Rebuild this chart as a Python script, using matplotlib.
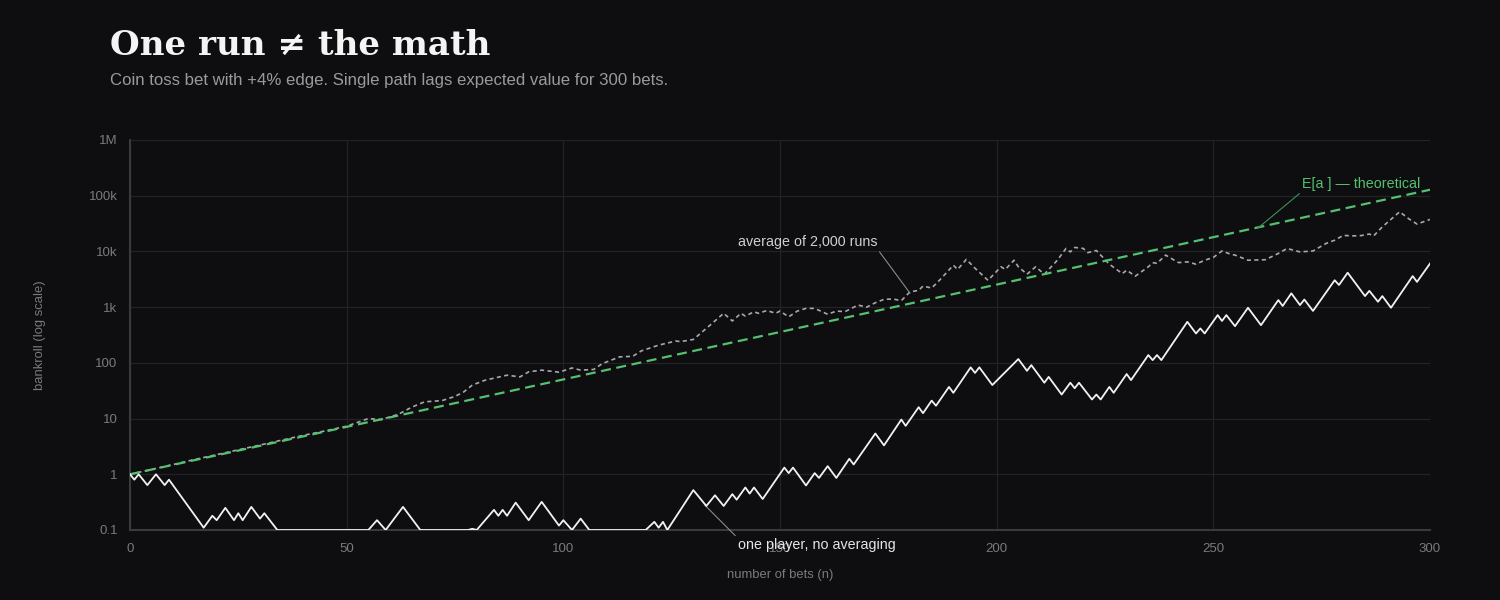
import numpy as np
import matplotlib
matplotlib.use("Agg")
from matplotlib import pyplot as plt
from matplotlib.ticker import FixedLocator, FixedFormatter

# ---- data ----
# one single player (turning points of the path, floor at 0.1)
single_n = [0, 1, 2, 4, 6, 8, 9, 17, 19, 20, 22, 24, 25, 26, 28, 30, 31, 34, 55, 57,
            59, 63, 67, 78, 79, 80, 84, 85, 86, 87, 89, 92, 95, 99, 100, 102, 104, 106,
            119, 121, 122, 123, 124, 130, 133, 135, 137, 139, 140, 142, 143, 144, 146,
            151, 152, 153, 156, 158, 159, 161, 163, 166, 167, 172, 174, 178, 179, 182,
            183, 185, 186, 189, 190, 194, 195, 196, 199, 205, 207, 208, 211, 212, 215,
            217, 218, 219, 222, 223, 224, 226, 227, 230, 231, 235, 236, 237, 238, 244,
            246, 247, 248, 251, 252, 253, 255, 258, 261, 265, 266, 268, 270, 271, 273,
            278, 279, 281, 285, 286, 288, 289, 291, 296, 297, 300]
single_val = [1.0, 0.8, 1.0, 0.64, 1.0, 0.64, 0.8, 0.11, 0.18, 0.15, 0.25, 0.15, 0.2, 0.15,
              0.26, 0.16, 0.2, 0.1, 0.1, 0.15, 0.1, 0.26, 0.1, 0.1, 0.105, 0.1, 0.23, 0.18,
              0.23, 0.18, 0.31, 0.15, 0.32, 0.12, 0.15, 0.1, 0.16, 0.1, 0.1, 0.14, 0.11,
              0.14, 0.1, 0.52, 0.27, 0.42, 0.27, 0.44, 0.35, 0.58, 0.45, 0.58, 0.36, 1.32,
              1.05, 1.32, 0.63, 1.05, 0.86, 1.4, 0.86, 1.9, 1.5, 5.4, 3.3, 9.6, 7.4, 16,
              12.5, 21, 17, 37, 29, 83, 66, 83, 40, 117, 72, 91, 44, 56, 27, 44, 35, 44,
              22, 27, 22, 37, 29, 63, 49, 138, 112, 138, 112, 545, 337, 415, 337, 720, 565,
              720, 455, 975, 475, 1340, 1050, 1770, 1090, 1370, 855, 3040, 2500, 4150,
              1580, 1960, 1250, 1580, 975, 3610, 2840, 6060]

# average of 2,000 runs
avg_n = [0, 5, 10, 15, 20, 25, 30, 35, 40, 45, 50, 55, 58, 62, 65, 68, 72, 75, 77, 79,
         82, 87, 90, 92, 95, 99, 102, 104, 107, 109, 113, 116, 118, 122, 126, 127, 130,
         133, 137, 139, 141, 142, 144, 145, 147, 149, 150, 152, 154, 156, 158, 161, 163,
         165, 168, 170, 172, 174, 176, 178, 180, 182, 183, 185, 187, 190, 191, 193, 195,
         198, 201, 202, 204, 205, 207, 209, 211, 214, 216, 217, 218, 220, 221, 223, 224,
         226, 229, 230, 232, 235, 236, 237, 239, 241, 242, 244, 246, 248, 250, 252, 254,
         255, 258, 262, 265, 267, 270, 273, 276, 278, 280, 282, 284, 286, 287, 289, 293,
         295, 297, 298, 300]
avg_val = [1, 1.22, 1.5, 1.85, 2.25, 2.75, 3.35, 4.1, 5.0, 6.0, 7.3, 10, 9.6, 12, 16, 20,
           21, 25, 30, 40, 49, 60, 56, 69, 74, 68, 81, 74, 76, 97, 128, 131, 164, 208, 247,
           240, 263, 415, 775, 565, 775, 690, 825, 775, 870, 775, 850, 670, 850, 950, 950,
           745, 850, 830, 1090, 1000, 1200, 1380, 1400, 1310, 1880, 2000, 2390, 2200, 3150,
           5650, 4750, 7200, 5000, 3030, 5300, 4750, 6950, 5300, 3900, 5300, 3900, 6950,
           11300, 9800, 11800, 11300, 9500, 10400, 8600, 5900, 4000, 4600, 3600, 5300,
           6300, 6100, 8600, 6950, 6300, 6500, 5900, 6950, 7800, 10200, 8900, 8600, 6950,
           7100, 9200, 11300, 9800, 10200, 13900, 15900, 19400, 19000, 19200, 20500, 19000,
           27600, 51500, 39000, 31000, 33000, 37500]

# theoretical expectation (straight line on log axis)
ev_n = [0, 300]
ev_val = [1, 128000]

y_ticks = [0.1, 1, 10, 100, 1e3, 1e4, 1e5, 1e6]
y_labels = ["0.1", "1", "10", "100", "1k", "10k", "100k", "1M"]
x_ticks = [0, 50, 100, 150, 200, 250, 300]

# ---- style ----
BG = "#0e0e10"
GRID = "#232326"
TICK = "#7a7a7e"
GREEN = "#55c070"

plt.rcParams["font.family"] = ["Liberation Sans", "DejaVu Sans"]

fig = plt.figure(figsize=(15, 6), dpi=100, facecolor=BG)
ax = fig.add_axes([130 / 1500, 70 / 600, 1300 / 1500, 390 / 600])
ax.set_facecolor(BG)

ax.set_yscale("log")
ax.set_xlim(0, 300)
ax.set_ylim(0.1, 1e6)

ax.yaxis.set_major_locator(FixedLocator(y_ticks))
ax.yaxis.set_major_formatter(FixedFormatter(y_labels))
ax.yaxis.set_minor_locator(FixedLocator([]))
ax.set_xticks(x_ticks)
ax.tick_params(axis="both", length=0, colors=TICK, labelsize=9.5, pad=9)

ax.grid(which="major", color=GRID, linewidth=0.9)
ax.set_axisbelow(True)
for side in ["top", "right"]:
    ax.spines[side].set_visible(False)
for side in ["left", "bottom"]:
    ax.spines[side].set_color("#3a3a3e")
    ax.spines[side].set_linewidth(1.5)

ax.plot(avg_n, avg_val, color="#a8a8ac", lw=1.2, linestyle=(0, (2.5, 2)), zorder=2)
ax.plot(ev_n, ev_val, color=GREEN, lw=1.6, linestyle=(0, (4.5, 2.5)), zorder=3)
ax.plot(single_n, single_val, color="#f2f2f2", lw=1.3, zorder=4)

ax.set_xlabel("number of bets (n)", color=TICK, fontsize=9.4)
ax.set_ylabel("bankroll (log scale)", color=TICK, fontsize=9.4)
ax.xaxis.set_label_coords(0.5, -0.1)
ax.yaxis.set_label_coords(-0.0646, 0.5)

# annotations
ax.annotate("average of 2,000 runs", xy=(180, 1780), xytext=(140.3, 14700),
            color="#cfcfd2", fontsize=10.3, va="center", ha="left",
            arrowprops=dict(arrowstyle="-", color="#8a8a8e", lw=0.8,
                            relpos=(1, 0), shrinkA=0, shrinkB=0))
ax.annotate("one player, no averaging", xy=(132.7, 0.277), xytext=(140.3, 0.053),
            color="#e6e6e8", fontsize=10.3, va="center", ha="left",
            annotation_clip=False,
            arrowprops=dict(arrowstyle="-", color="#8a8a8e", lw=0.8,
                            relpos=(0, 1), shrinkA=0, shrinkB=0))
ax.annotate("E[a ] \u2014 theoretical", xy=(260.3, 26300), xytext=(270.5, 160000),
            color=GREEN, fontsize=10.3, va="center", ha="left",
            arrowprops=dict(arrowstyle="-", color="#3f8f55", lw=0.8,
                            relpos=(0, 0), shrinkA=0, shrinkB=0))

fig.text(110 / 1500, 1 - 45 / 600, "One run \u2260 the math", family="DejaVu Serif",
         fontweight="bold", fontsize=24.6, color="#f4f4f4", va="center", ha="left")
fig.text(110 / 1500, 1 - 80 / 600,
         "Coin toss bet with +4% edge. Single path lags expected value for 300 bets.",
         fontsize=12.1, color="#9a9a9e", va="center", ha="left")

fig.savefig("out.png", dpi=100, facecolor=BG)
